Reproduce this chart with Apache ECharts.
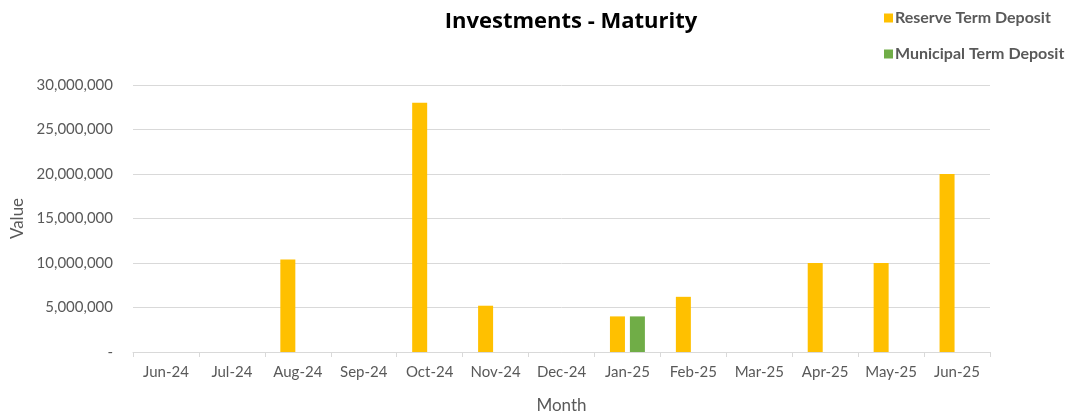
<!DOCTYPE html>
<html>
<head>
<meta charset="utf-8">
<script src="https://cdn.jsdelivr.net/npm/echarts@6/dist/echarts.min.js"></script>
<style>
html,body{margin:0;padding:0;background:#fff;}
#chart{width:1071px;height:415px;}
</style>
</head>
<body>
<div id="chart"></div>
<script>
// categories and values
var months = ['Jun-24','Jul-24','Aug-24','Sep-24','Oct-24','Nov-24','Dec-24','Jan-25','Feb-25','Mar-25','Apr-25','May-25','Jun-25'];
var reserveTD = [null, null, 10400000, null, 28000000, 5200000, null, 4000000, 6200000, null, 10000000, 10000000, 20000000];
var municipalTD = [null, null, null, null, null, null, null, 4000000, null, null, null, null, null];
var seriesNames = ['Reserve Term Deposit', 'Municipal Term Deposit'];
var colorList = ['#ffc000', '#70ad47'];

var fontName = 'Lato';
var textGrey = '#595959';

var ele = echarts.init(document.getElementById('chart'));
var option = {
	color: colorList,
	animation: false,
	title: {
		text: 'Investments - Maturity',
		left: 566,
		textAlign: 'center',
		top: 6,
		textStyle: {
			fontFamily: 'Open Sans',
			fontSize: 22,
			fontWeight: 'bold',
			color: '#000'
		}
	},
	legend: {
		data: seriesNames,
		orient: 'vertical',
		left: 879,
		top: 5,
		itemGap: 20,
		itemWidth: 9,
		itemHeight: 9,
		icon: 'rect',
		textStyle: {
			fontFamily: fontName,
			fontSize: 16,
			fontWeight: 'bold',
			color: textGrey,
			padding: [0, 0, 0, -3]
		}
	},
	grid: {
		left: 133,
		right: 81,
		top: 85,
		bottom: 63,
		outerBoundsMode: 'none',
		containLabel: false
	},
	xAxis: {
		type: 'category',
		data: months,
		name: 'Month',
		nameLocation: 'middle',
		nameGap: 45,
		nameTextStyle: {
			fontFamily: fontName,
			fontSize: 17,
			color: textGrey
		},
		axisLine: {
			lineStyle: { color: '#d9d9d9' }
		},
		axisTick: {
			show: true,
			length: 5,
			lineStyle: { color: '#d9d9d9' }
		},
		axisLabel: {
			interval: 0,
			margin: 13,
			fontFamily: fontName,
			fontSize: 15,
			color: textGrey
		}
	},
	yAxis: {
		type: 'value',
		min: 0,
		max: 30000000,
		interval: 5000000,
		name: 'Value',
		nameLocation: 'middle',
		nameGap: 106,
		nameRotate: 90,
		nameTextStyle: {
			fontFamily: fontName,
			fontSize: 17,
			color: textGrey
		},
		axisLine: { show: false },
		axisTick: { show: false },
		splitLine: {
			lineStyle: { color: '#d9d9d9' }
		},
		axisLabel: {
			margin: 20,
			fontFamily: fontName,
			fontSize: 15,
			color: textGrey,
			formatter: function (v) {
				if (v === 0) return '-';
				return v.toString().replace(/\B(?=(\d{3})+(?!\d))/g, ',');
			}
		}
	},
	series: [
		{
			name: seriesNames[0],
			type: 'bar',
			data: reserveTD,
			barWidth: 15,
			barGap: '33%'
		},
		{
			name: seriesNames[1],
			type: 'bar',
			data: municipalTD,
			barWidth: 15,
			barGap: '33%'
		}
	]
};
ele.setOption(option);
</script>
</body>
</html>
